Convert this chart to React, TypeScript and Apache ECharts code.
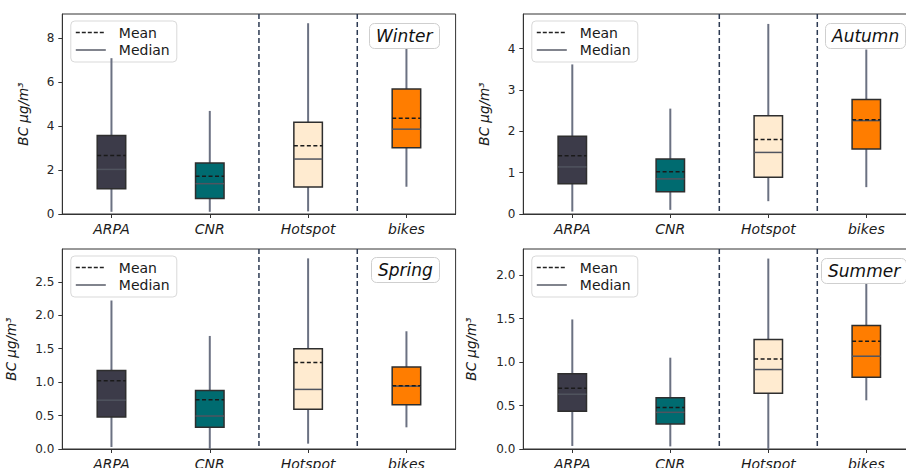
import React, { useEffect, useRef } from 'react';
import * as echarts from 'echarts';

const categories = ['ARPA', 'CNR', 'Hotspot', 'bikes'];
const boxColors = ['#3c3b49', '#006b70', '#ffebd0', '#ff7d00'];
const separatorBefore = ['Hotspot', 'bikes'];
const legendLabels = ['Mean', 'Median'];

// each row: [whisker low, Q1, median, Q3, whisker high]
const winterBoxes = [
  [0.1, 1.15, 2.03, 3.57, 7.09],
  [0.1, 0.71, 1.38, 2.32, 4.69],
  [0.12, 1.23, 2.5, 4.17, 8.68],
  [1.24, 3.02, 3.86, 5.69, 7.51],
];
const winterMeans = [2.66, 1.72, 3.1, 4.36];
const winterTicks = [0, 2, 4, 6, 8];
const winterMax = 9.1;

const autumnBoxes = [
  [0.06, 0.73, 1.14, 1.88, 3.62],
  [0.1, 0.54, 0.85, 1.33, 2.55],
  [0.31, 0.89, 1.49, 2.38, 4.6],
  [0.65, 1.57, 2.26, 2.77, 3.98],
];
const autumnMeans = [1.41, 1.02, 1.8, 2.28];
const autumnTicks = [0, 1, 2, 3, 4];
const autumnMax = 4.84;

const springBoxes = [
  [0.03, 0.48, 0.73, 1.175, 2.22],
  [0.0, 0.324, 0.493, 0.876, 1.69],
  [0.08, 0.593, 0.891, 1.5, 2.85],
  [0.324, 0.662, 0.94, 1.225, 1.76],
];
const springMeans = [1.02, 0.737, 1.295, 0.945];
const springTicks = [0, 0.5, 1, 1.5, 2, 2.5];
const springMax = 2.99;

const summerBoxes = [
  [0.035, 0.434, 0.63, 0.864, 1.49],
  [0.03, 0.288, 0.422, 0.59, 1.05],
  [0.0, 0.641, 0.914, 1.26, 2.19],
  [0.56, 0.825, 1.067, 1.42, 1.9],
];
const summerMeans = [0.7, 0.476, 1.036, 1.24];
const summerTicks = [0, 0.5, 1, 1.5, 2];
const summerMax = 2.3;

const FONT = 'DejaVu Sans';

const panels = [
  { title: 'Winter', boxes: winterBoxes, means: winterMeans, ticks: winterTicks, max: winterMax, dec: 0,
    grid: { left: 62.3, top: 14, width: 393.3, height: 200 }, titleLeft: 369, titleTop: 23, nameGap: 32 },
  { title: 'Autumn', boxes: autumnBoxes, means: autumnMeans, ticks: autumnTicks, max: autumnMax, dec: 0,
    grid: { left: 523.3, top: 14, width: 392, height: 200 }, titleLeft: 825, titleTop: 23, nameGap: 32 },
  { title: 'Spring', boxes: springBoxes, means: springMeans, ticks: springTicks, max: springMax, dec: 1,
    grid: { left: 62.3, top: 249, width: 393.3, height: 200 }, titleLeft: 371, titleTop: 257, nameGap: 44 },
  { title: 'Summer', boxes: summerBoxes, means: summerMeans, ticks: summerTicks, max: summerMax, dec: 1,
    grid: { left: 523.3, top: 249, width: 392, height: 200 }, titleLeft: 821, titleTop: 258, nameGap: 45 },
];

function buildOption() {
  const grid: any[] = [];
  const xAxis: any[] = [];
  const yAxis: any[] = [];
  const series: any[] = [];
  const title: any[] = [];
  const graphic: any[] = [];

  panels.forEach((p, gi) => {
    grid.push({
      ...p.grid, show: true, borderColor: '#333', borderWidth: 1, backgroundColor: 'transparent',
      containLabel: false, outerBoundsMode: 'none',
    });
    xAxis.push({
      type: 'category', gridIndex: gi, data: categories, boundaryGap: true,
      axisLine: { show: true, lineStyle: { color: '#333', width: 1 } },
      axisTick: { show: true, alignWithLabel: true, length: 4, lineStyle: { color: '#333' } },
      axisLabel: { fontFamily: FONT, fontSize: 14, fontStyle: 'italic', color: '#1a1a1a', margin: 8 },
      splitLine: { show: false },
    });
    yAxis.push({
      type: 'value', gridIndex: gi, min: 0, max: p.max,
      name: 'BC μg/m³', nameLocation: 'middle', nameGap: p.nameGap,
      nameTextStyle: { fontFamily: FONT, fontSize: 13.5, fontStyle: 'italic', color: '#1a1a1a' },
      axisLine: { show: true, lineStyle: { color: '#333', width: 1 } },
      axisTick: { show: true, length: 4, customValues: p.ticks, lineStyle: { color: '#333' } },
      axisLabel: {
        customValues: p.ticks, fontFamily: FONT, fontSize: 12, color: '#262626', margin: 8,
        formatter: (v: number) => v.toFixed(p.dec),
      },
      splitLine: { show: false },
    });
    const rows = p.boxes.map((b, i) => [i, b[0], b[1], b[2], b[3], b[4], p.means[i]]);
    series.push({
      type: 'custom', xAxisIndex: gi, yAxisIndex: gi, data: rows,
      encode: { x: 0, y: [1, 2, 3, 4, 5, 6] },
      renderItem: (params: any, api: any) => {
        const i = api.value(0);
        const band = api.size([1, 0])[0];
        const w = band * 0.29;
        const cx = api.coord([i, 0])[0];
        const y = (k: number) => api.coord([i, api.value(k)])[1];
        const lo = y(1), q1 = y(2), med = y(3), q3 = y(4), hi = y(5), mean = y(6);
        return {
          type: 'group',
          children: [
            { type: 'line', shape: { x1: cx, y1: hi, x2: cx, y2: lo }, style: { stroke: '#6b7182', lineWidth: 2 } },
            { type: 'rect', shape: { x: cx - w / 2, y: q3, width: w, height: q1 - q3 },
              style: { fill: boxColors[i], stroke: '#2e2e2e', lineWidth: 1.5 } },
            { type: 'line', shape: { x1: cx - w / 2, y1: med, x2: cx + w / 2, y2: med },
              style: { stroke: '#50545f', lineWidth: 1.5 } },
            { type: 'line', shape: { x1: cx - w / 2, y1: mean, x2: cx + w / 2, y2: mean },
              style: { stroke: '#1a1a1a', lineWidth: 1.5, lineDash: [4, 2.5] } },
          ],
        };
      },
    });
    series.push({
      type: 'custom', xAxisIndex: gi, yAxisIndex: gi,
      data: separatorBefore.map((c) => [categories.indexOf(c), 0]),
      encode: { x: 0, y: 1 },
      renderItem: (params: any, api: any) => {
        const k = api.value(0);
        const x = (api.coord([k - 1, 0])[0] + api.coord([k, 0])[0]) / 2;
        const cs = params.coordSys;
        return {
          type: 'line', shape: { x1: x, y1: cs.y, x2: x, y2: cs.y + cs.height },
          style: { stroke: '#2c3a52', lineWidth: 1.5, lineDash: [5, 3] },
        };
      },
    });
    title.push({
      text: p.title, left: p.titleLeft, top: p.titleTop,
      textStyle: { fontFamily: FONT, fontSize: 17, fontStyle: 'italic', fontWeight: 'normal', color: '#111', lineHeight: 18 },
      borderColor: '#cfcfcf', borderWidth: 1, borderRadius: 5, backgroundColor: '#fff', padding: [4, 7],
    });
    const gx = p.grid.left + 8.5;
    const gy = p.grid.top + 7;
    graphic.push({
      type: 'group', x: gx, y: gy, children: [
        { type: 'rect', shape: { x: 0, y: 0, width: 106, height: 41, r: 4 },
          style: { fill: 'rgba(255,255,255,0.85)', stroke: '#d9d9d9', lineWidth: 1 } },
        { type: 'line', shape: { x1: 5, y1: 11.5, x2: 35, y2: 11.5 },
          style: { stroke: '#222', lineWidth: 1.3, lineDash: [4, 2] } },
        { type: 'line', shape: { x1: 5, y1: 29, x2: 35, y2: 29 },
          style: { stroke: '#3d4150', lineWidth: 1.3 } },
        { type: 'text', x: 48, y: 11.5,
          style: { text: legendLabels[0], font: `14px "${FONT}"`, fill: '#1a1a1a', verticalAlign: 'middle' } },
        { type: 'text', x: 48, y: 29,
          style: { text: legendLabels[1], font: `14px "${FONT}"`, fill: '#1a1a1a', verticalAlign: 'middle' } },
      ],
    });
  });

  return {
    animation: false,
    backgroundColor: '#fff',
    textStyle: { fontFamily: FONT },
    grid, xAxis, yAxis, series, title, graphic,
  };
}

export default function App() {
  const ref = useRef<HTMLDivElement>(null);
  useEffect(() => {
    document.body.style.margin = '0';
    if (!ref.current) return;
    const chart = echarts.init(ref.current, undefined, { renderer: 'svg' });
    chart.setOption(buildOption() as any);
    return () => chart.dispose();
  }, []);
  return <div ref={ref} style={{ width: 906, height: 468 }} />;
}
